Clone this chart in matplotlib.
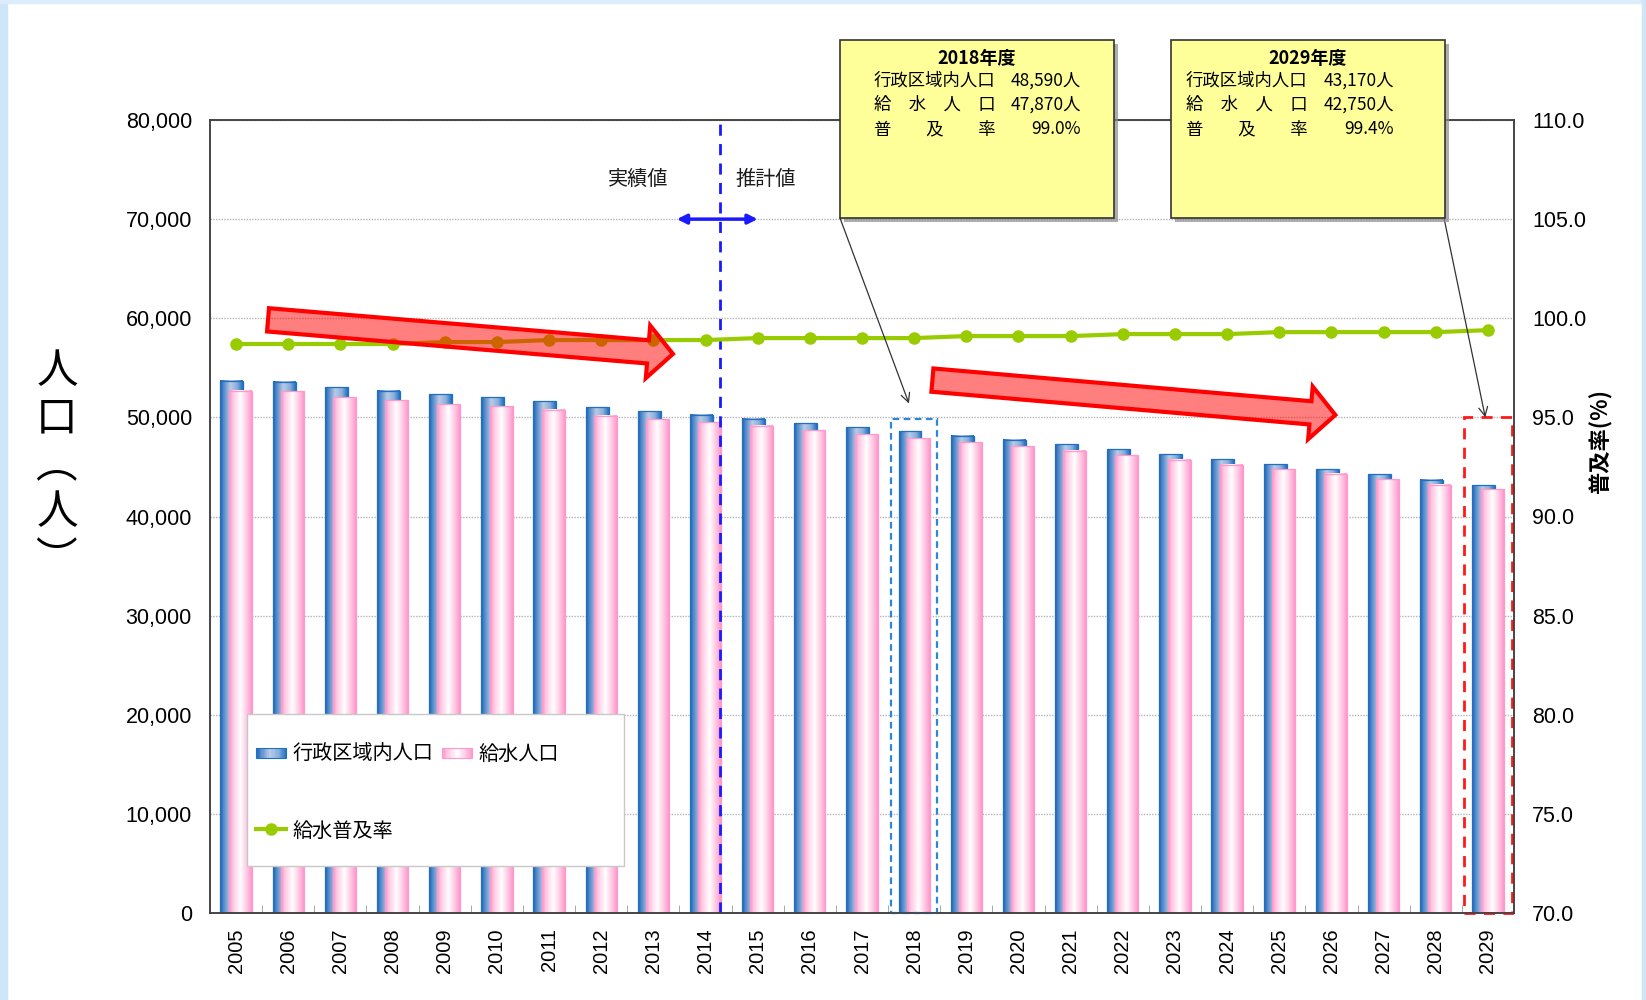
import numpy as np
import matplotlib
matplotlib.use("Agg")
import matplotlib.pyplot as plt
from matplotlib.colors import LinearSegmentedColormap
from matplotlib.patches import Rectangle
from matplotlib.legend_handler import HandlerBase
from matplotlib.lines import Line2D

plt.rcParams["font.family"] = ["Noto Sans CJK JP", "DejaVu Sans"]

# ---- data ----
years = ["2005", "2006", "2007", "2008", "2009", "2010", "2011", "2012", "2013",
         "2014", "2015", "2016", "2017", "2018", "2019", "2020", "2021", "2022",
         "2023", "2024", "2025", "2026", "2027", "2028", "2029"]
admin_pop = [53690, 53590, 53020, 52680, 52310, 52010, 51610, 51010, 50600, 50270,
             49850, 49420, 49000, 48590, 48150, 47750, 47280, 46770, 46300, 45800,
             45290, 44790, 44250, 43710, 43170]
supply_pop = [52680, 52620, 52010, 51710, 51340, 51140, 50770, 50170, 49800, 49500,
              49130, 48720, 48320, 47870, 47510, 47110, 46640, 46170, 45700, 45230,
              44760, 44290, 43750, 43210, 42750]
supply_rate = [98.7, 98.7, 98.7, 98.7, 98.8, 98.8, 98.9, 98.9, 98.9, 98.9,
               99.0, 99.0, 99.0, 99.0, 99.1, 99.1, 99.1, 99.2, 99.2, 99.2,
               99.3, 99.3, 99.3, 99.3, 99.4]

pop_ticks = [0, 10000, 20000, 30000, 40000, 50000, 60000, 70000, 80000]
rate_ticks = [70, 75, 80, 85, 90, 95, 100, 105, 110]

series_labels = ["行政区域内人口", "給水人口", "給水普及率"]
callouts = [
    ("2018年度", ["行政区域内人口", "給　水　人　口", "普　　及　　率"],
     ["48,590人", "47,870人", "99.0%"]),
    ("2029年度", ["行政区域内人口", "給　水　人　口", "普　　及　　率"],
     ["43,170人", "42,750人", "99.4%"]),
]

W, H = 1646, 1000
blue_cmap = LinearSegmentedColormap.from_list(
    "blue_bar", [(0, "#1460b4"), (0.12, "#4a82c7"), (0.45, "#b9cce6"), (0.75, "#8aaedb"), (1.0, "#1f6fc2")])
pink_cmap = LinearSegmentedColormap.from_list(
    "pink_bar", [(0, "#ff8fc8"), (0.15, "#ffc4e1"), (0.5, "#ffffff"), (0.8, "#ffc4e1"), (1.0, "#ff99cc")])
GREEN = "#99cc00"
grad = np.linspace(0, 1, 64).reshape(1, -1)


class GradientHandler(HandlerBase):
    def __init__(self, cmap, edge):
        super().__init__()
        self.cmap = cmap
        self.edge = edge

    def create_artists(self, legend, orig_handle, xdescent, ydescent, width, height, fontsize, trans):
        n = 24
        y0 = -ydescent + height * 0.15
        hh = height * 0.7
        arts = []
        for i in range(n):
            arts.append(Rectangle((-xdescent + width * i / n, y0), width / n, hh,
                                  facecolor=self.cmap((i + 0.5) / n), edgecolor="none", transform=trans))
        arts.append(Rectangle((-xdescent, y0), width, hh, facecolor="none",
                              edgecolor=self.edge, lw=0.8, transform=trans))
        return arts


def gradient_bars(ax, xs, heights, width, cmap, edge, z):
    bars = ax.bar(xs, heights, width=width, facecolor="none", edgecolor=edge, linewidth=0.9, zorder=z + 0.1)
    for b in bars:
        x0, w, h = b.get_x(), b.get_width(), b.get_height()
        ax.imshow(grad, extent=(x0, x0 + w, 0, h), aspect="auto", cmap=cmap,
                  interpolation="bilinear", zorder=z)
    return bars


fig = plt.figure(figsize=(W / 100, H / 100), dpi=100)
ax = fig.add_axes([210 / W, 1 - 913 / H, 1304 / W, 793 / H])

x = np.arange(len(years))
bar_w = 0.44
gradient_bars(ax, x - 0.08, admin_pop, bar_w, blue_cmap, "#1f6fc2", 2.0)
gradient_bars(ax, x + 0.08, supply_pop, bar_w, pink_cmap, "#ff99cc", 2.2)

ax.set_xlim(-0.5, len(years) - 0.5)
ax.set_ylim(0, 80000)
ax.set_axisbelow(True)
ax.yaxis.grid(True, color="#b4b4b4", ls=(0, (1, 1)), lw=1)
ax.set_yticks(pop_ticks)
ax.set_yticklabels([f"{v:,}" for v in pop_ticks], fontfamily="Liberation Sans", fontsize=15.5)
ax.tick_params(axis="y", length=0, pad=13)
ax.set_xticks(x)
ax.set_xticklabels(years, rotation=90, fontfamily="Liberation Sans", fontsize=14.5)
ax.tick_params(axis="x", which="major", length=0, pad=11)
ax.set_xticks(x[:-1] + 0.5, minor=True)
ax.tick_params(axis="x", which="minor", direction="in", length=6, color="#999999")
for s in ax.spines.values():
    s.set_color("#404040")
    s.set_linewidth(1.1)

# actual / estimate divider
ax.axvline(9.28, color="#1a1aff", ls=(0, (4, 3)), lw=2, zorder=6)
ax.annotate("", xy=(8.45, 70000), xytext=(10.0, 70000),
            arrowprops=dict(arrowstyle="<|-|>", color="#1a1aff", lw=2.5, mutation_scale=14,
                            shrinkA=0, shrinkB=0), zorder=6)
ax.text(7.7, 74000, "実績値", fontsize=14.5, ha="center", va="center", color="#1a1a1a")
ax.text(10.16, 74000, "推計値", fontsize=14.5, ha="center", va="center", color="#1a1a1a")

# highlight frames
ax.add_patch(Rectangle((13 - 0.44, 0), 0.88, 49800, fill=False, ec="#2e86d6",
                       ls=(0, (3, 2)), lw=1.6, zorder=6, clip_on=False))
ax.add_patch(Rectangle((24 - 0.46, 0), 0.92, 50000, fill=False, ec="#ff1a1a",
                       ls=(0, (4, 3)), lw=2, zorder=6, clip_on=False))

# rate line on right axis
ax2 = ax.twinx()
ax2.set_ylim(70, 110)
ax2.plot(x, supply_rate, color=GREEN, lw=3, marker="o", ms=8, zorder=3)
ax2.set_yticks(rate_ticks)
ax2.set_yticklabels([f"{v:.1f}" for v in rate_ticks], fontfamily="Liberation Sans", fontsize=15.5)
ax2.tick_params(axis="y", length=0, pad=13)
for s in ax2.spines.values():
    s.set_color("#404040")
    s.set_linewidth(1.1)

# trend arrows
arrow_style = "simple,head_length=0.45,head_width=0.95,tail_width=0.42"
for start, end in [((0.0445, 0.748), (0.355, 0.705)), ((0.554, 0.672), (0.863, 0.628))]:
    ax2.annotate("", xy=end, xycoords="axes fraction", xytext=start, textcoords="axes fraction",
                 arrowprops=dict(arrowstyle=arrow_style, mutation_scale=40, fc=(1, 0, 0, 0.5),
                                 ec="red", lw=3, shrinkA=0, shrinkB=0, joinstyle="miter"),
                 zorder=8)

# legend
ax2.add_patch(Rectangle((0.0284, 0.0593), 0.2891, 0.1917, transform=ax2.transAxes,
                        facecolor="white", edgecolor="#c8c8c8", lw=1, zorder=11))
h_blue = Rectangle((0, 0), 1, 1)
h_pink = Rectangle((0, 0), 1, 1)
h_line = Line2D([], [], color=GREEN, lw=3, marker="o", ms=8)
leg = ax2.legend([h_blue, h_line, h_pink], [series_labels[0], series_labels[2], series_labels[1]],
                 ncol=2, loc="upper left", bbox_to_anchor=(0.0353, 0.213), frameon=False,
                 fontsize=14.5, handlelength=1.5, handletextpad=0.3, columnspacing=0.45,
                 labelspacing=2.75, borderpad=0, borderaxespad=0,
                 handler_map={h_blue: GradientHandler(blue_cmap, "#1f6fc2"),
                              h_pink: GradientHandler(pink_cmap, "#ff99cc")})
leg.set_zorder(12)

# callout boxes
box_specs = [(840, 874, 1081, (12.9, 51400), (840, 218)),
             (1171, 1186, 1394, (23.95, 50000), (1444, 218))]
for (title, labels, values), (bx, lx, vx, target, corner) in zip(callouts, box_specs):
    bw, top, bot = 274, 40, 218
    fig.add_artist(Rectangle(((bx + 4) / W, 1 - (bot + 4) / H), bw / W, (bot - top) / H,
                             transform=fig.transFigure, facecolor="#8a8a8a", edgecolor="none",
                             alpha=0.7, zorder=9))
    fig.add_artist(Rectangle((bx / W, 1 - bot / H), bw / W, (bot - top) / H,
                             transform=fig.transFigure, facecolor="#ffff99", edgecolor="#333333",
                             lw=1.2, zorder=10))
    fig.text((bx + bw / 2) / W, 1 - 58 / H, title, fontsize=13, fontweight="bold",
             ha="center", va="center", zorder=11)
    for i, (lab, val) in enumerate(zip(labels, values)):
        yy = 1 - (81 + 24 * i) / H
        fig.text(lx / W, yy, lab, fontsize=12.5, ha="left", va="center", zorder=11)
        fig.text(vx / W, yy, val, fontsize=12.5, ha="right", va="center", zorder=11)
    ax2.annotate("", xy=target, xycoords=ax.transData,
                 xytext=(corner[0] / W, 1 - corner[1] / H), textcoords="figure fraction",
                 arrowprops=dict(arrowstyle="->", color="#333333", lw=0.9, shrinkA=0, shrinkB=0,
                                 mutation_scale=16), zorder=9)

# axis titles
for i, ch in enumerate(["人", "口", "︵", "人", "︶"]):
    fig.text(57 / W, 1 - (372 + 47 * i) / H, ch, fontsize=30, ha="center", va="center")
fig.text(1601 / W, 1 - 441 / H, "普及率(%)", rotation=90, fontsize=16, fontweight="bold",
         ha="center", va="center")

# light blue slide frame
fig.add_artist(Rectangle((0, 0), 7 / W, 1, transform=fig.transFigure, color="#cfe5fa", zorder=0))
fig.add_artist(Rectangle((0, 1 - 3 / H), 1, 3 / H, transform=fig.transFigure, color="#dcecfb", zorder=0))
fig.add_artist(Rectangle((1642 / W, 0), 3 / W, 1, transform=fig.transFigure, color="#cfe5fa", zorder=0))

fig.savefig("out.png", dpi=100)
